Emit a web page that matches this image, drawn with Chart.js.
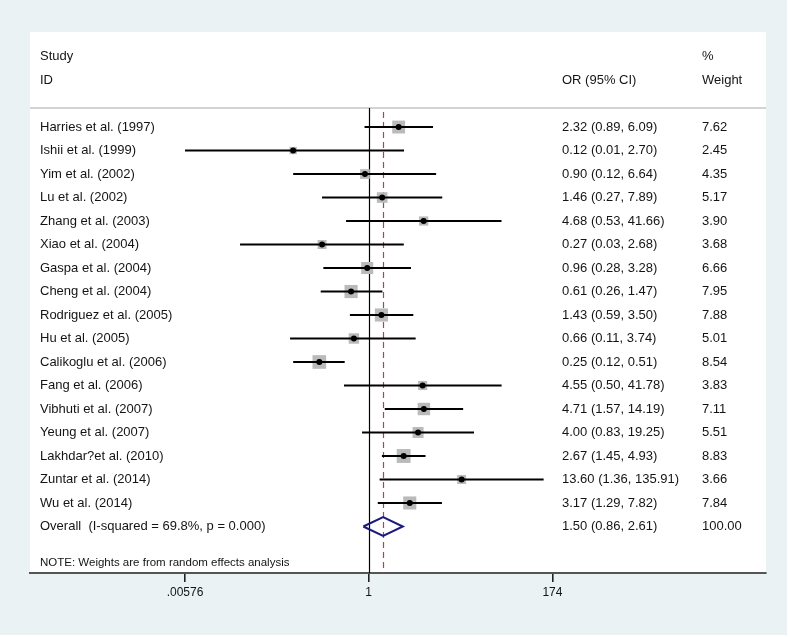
<!DOCTYPE html>
<html>
<head>
<meta charset="utf-8">
<script src="https://cdn.jsdelivr.net/npm/chart.js@4.4.1/dist/chart.umd.min.js"></script>
<style>
  html, body { margin: 0; padding: 0; background: #fff; }
</style>
</head>
<body>
<canvas id="forest" width="790" height="637"></canvas>
<script>
const studies = [
  "Harries et al. (1997)", "Ishii et al. (1999)", "Yim et al. (2002)", "Lu et al. (2002)",
  "Zhang et al. (2003)", "Xiao et al. (2004)", "Gaspa et al. (2004)", "Cheng et al. (2004)",
  "Rodriguez et al. (2005)", "Hu et al. (2005)", "Calikoglu et al. (2006)", "Fang et al. (2006)",
  "Vibhuti et al. (2007)", "Yeung et al. (2007)", "Lakhdar?et al. (2010)", "Zuntar et al. (2014)",
  "Wu et al. (2014)",
];
const orValues = [2.32, 0.12, 0.90, 1.46, 4.68, 0.27, 0.96, 0.61, 1.43, 0.66, 0.25, 4.55, 4.71, 4.00, 2.67, 13.60, 3.17];
const ciLow = [0.89, 0.00576, 0.12, 0.27, 0.53, 0.027, 0.28, 0.26, 0.59, 0.11, 0.12, 0.50, 1.57, 0.83, 1.45, 1.36, 1.29];
const ciHigh = [6.09, 2.70, 6.64, 7.89, 41.66, 2.68, 3.28, 1.47, 3.50, 3.74, 0.51, 41.78, 14.19, 19.25, 4.93, 135.91, 7.82];
const weights = [7.62, 2.45, 4.35, 5.17, 3.90, 3.68, 6.66, 7.95, 7.88, 5.01, 8.54, 3.83, 7.11, 5.51, 8.83, 3.66, 7.84];

const overallLabel = "Overall  (I-squared = 69.8%, p = 0.000)";
const overallOR = 1.50;
const overallLow = 0.86;
const overallHigh = 2.61;
const overallWeight = 100.00;

const tickValues = [0.00576, 1, 174];
const tickLabels = [".00576", "1", "174"];

const noteText = "NOTE: Weights are from random effects analysis";

// row index of each line (0 = first study)
const overallRow = studies.length;
const noteRow = 18.55;

const FONT = '"Liberation Sans", Arial, sans-serif';
const fmt = (v) => v.toFixed(2);

// one dataset per CI segment
const ciSets = studies.map((s, i) => ({
  type: "scatter",
  showLine: true,
  data: [{ x: ciLow[i], y: i }, { x: ciHigh[i], y: i }],
  borderColor: "#000",
  borderWidth: 2,
  pointRadius: 0,
  order: 1,
}));

const boxSet = {
  type: "scatter",
  data: orValues.map((v, i) => ({ x: v, y: i })),
  pointStyle: "rect",
  pointRadius: weights.map((w) => 3.3 * Math.sqrt(w)),
  backgroundColor: "#bababa",
  borderWidth: 0,
  order: 2,
};

const dotSet = {
  type: "scatter",
  data: orValues.map((v, i) => ({ x: v, y: i })),
  pointStyle: "circle",
  pointRadius: 3,
  backgroundColor: "#000",
  borderWidth: 0,
  order: 0,
};

const diamondSet = {
  type: "scatter",
  showLine: true,
  data: [
    { x: overallLow, y: overallRow },
    { x: overallOR, y: overallRow - 0.4 },
    { x: overallHigh, y: overallRow },
    { x: overallOR, y: overallRow + 0.4 },
    { x: overallLow, y: overallRow },
  ],
  borderColor: "#1a1a7e",
  borderWidth: 2,
  pointRadius: 0,
  tension: 0,
  order: 0,
};

const forestDecor = {
  id: "forestDecor",
  beforeDraw(chart) {
    const { ctx, chartArea } = chart;
    ctx.save();
    ctx.fillStyle = "#fff";
    ctx.fillRect(0, 0, chart.width, chart.height);
    ctx.fillStyle = "#eaf2f3";
    ctx.fillRect(0, 0, 787, 635);
    ctx.fillStyle = "#fff";
    ctx.fillRect(chartArea.left, 32, chartArea.right - chartArea.left, chartArea.bottom - 32);
    ctx.restore();
  },
  beforeDatasetsDraw(chart) {
    const { ctx, chartArea, scales } = chart;
    const x = scales.x;
    ctx.save();
    // header rule
    ctx.strokeStyle = "#c4c4c4";
    ctx.lineWidth = 1.5;
    ctx.beginPath();
    ctx.moveTo(chartArea.left, chartArea.top);
    ctx.lineTo(chartArea.right, chartArea.top);
    ctx.stroke();
    // no effect line
    const x1 = Math.round(x.getPixelForValue(1)) + 0.5;
    ctx.strokeStyle = "#000";
    ctx.lineWidth = 1.2;
    ctx.beginPath();
    ctx.moveTo(x1, chartArea.top);
    ctx.lineTo(x1, chartArea.bottom);
    ctx.stroke();
    // overall effect line
    const xo = Math.round(x.getPixelForValue(overallOR)) + 0.5;
    ctx.strokeStyle = "#b2424c";
    ctx.lineWidth = 1.2;
    ctx.setLineDash([6, 4]);
    ctx.beginPath();
    ctx.moveTo(xo, chartArea.top + 4);
    ctx.lineTo(xo, chartArea.bottom);
    ctx.stroke();
    ctx.restore();
  },
  afterDraw(chart) {
    const { ctx, scales } = chart;
    const y = scales.y;
    const colStudy = 40, colOR = 562, colW = 702;
    ctx.save();
    ctx.fillStyle = "#141414";
    ctx.textBaseline = "middle";
    ctx.textAlign = "left";
    ctx.font = "13px " + FONT;
    // headers
    const h1 = y.getPixelForValue(-3.0);
    const h2 = y.getPixelForValue(-1.97);
    ctx.fillText("Study", colStudy, h1);
    ctx.fillText("ID", colStudy, h2);
    ctx.fillText("OR (95% CI)", colOR, h2);
    ctx.fillText("%", colW, h1);
    ctx.fillText("Weight", colW, h2);
    // rows
    studies.forEach((s, i) => {
      const py = y.getPixelForValue(i);
      ctx.fillText(s, colStudy, py);
      ctx.fillText(`${fmt(orValues[i])} (${fmt(ciLow[i])}, ${fmt(ciHigh[i])})`, colOR, py);
      ctx.fillText(fmt(weights[i]), colW, py);
    });
    const po = y.getPixelForValue(overallRow);
    ctx.fillText(overallLabel, colStudy, po);
    ctx.fillText(`${fmt(overallOR)} (${fmt(overallLow)}, ${fmt(overallHigh)})`, colOR, po);
    ctx.fillText(fmt(overallWeight), colW, po);
    // note
    ctx.font = "11.5px " + FONT;
    ctx.fillText(noteText, colStudy, y.getPixelForValue(noteRow));
    ctx.restore();
  },
};

const ctx = document.getElementById("forest").getContext("2d");
const forestChart = new Chart(ctx, {
  type: "scatter",
  data: { datasets: [...ciSets, boxSet, dotSet, diamondSet] },
  options: {
    responsive: false,
    animation: false,
    events: [],
    layout: { padding: { left: 30, right: 24, top: 108, bottom: 0 } },
    plugins: { legend: { display: false }, tooltip: { enabled: false } },
    scales: {
      x: {
        type: "logarithmic",
        bounds: "data",
        min: Math.pow(10, -4.130),
        max: Math.pow(10, 4.845),
        afterBuildTicks: (scale) => {
          scale.ticks = tickValues.map((v) => ({ value: v }));
        },
        afterFit: (scale) => {
          scale.height = 64;
        },
        ticks: {
          autoSkip: false,
          maxRotation: 0,
          padding: 3,
          color: "#141414",
          font: { family: FONT, size: 12 },
          callback: (value, index) => tickLabels[index],
        },
        grid: {
          drawOnChartArea: false,
          drawTicks: true,
          tickLength: 9,
          color: "#222",
          lineWidth: 1.6,
        },
        border: { display: true, color: "#555", width: 2 },
      },
      y: {
        type: "linear",
        display: false,
        reverse: true,
        min: -0.81,
        max: 18.98,
      },
    },
  },
  plugins: [forestDecor],
});
</script>
</body>
</html>
